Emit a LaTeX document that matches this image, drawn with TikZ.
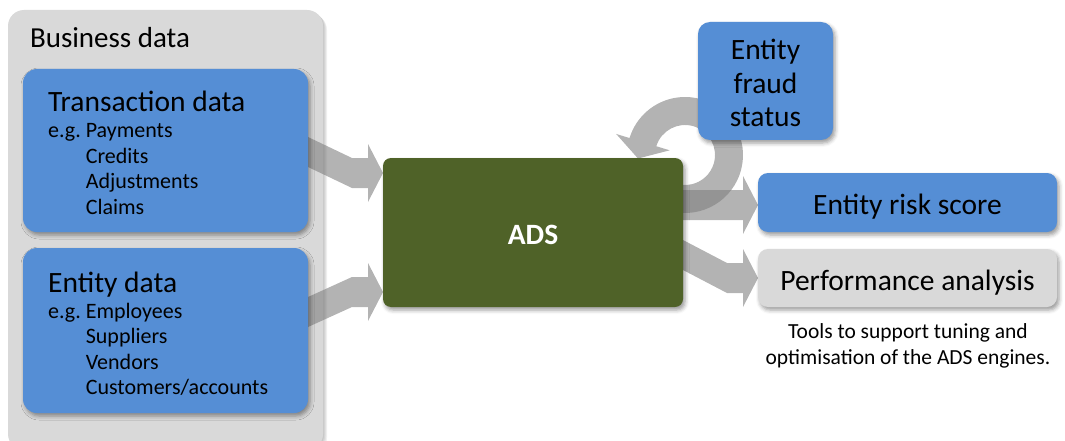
\documentclass[tikz,border=0pt]{standalone}
\usepackage{fontspec}
\setmainfont{Carlito}
\usepackage{tikz}
\usetikzlibrary{calc,shadows.blur}

\definecolor{boxblue}{HTML}{558ED5}
\definecolor{adsgreen}{HTML}{4F6228}
\definecolor{boxgray}{HTML}{D9D9D9}

\pgfdeclarelayer{framelayer}
\pgfdeclarelayer{arrowlayer}
\pgfsetlayers{framelayer,arrowlayer,main}

\newcommand{\px}[2]{\fontsize{#1}{#2}\selectfont}
\newcommand{\bentarrow}[2]{%
 \fill[flowarrow] ($(#1)+(0,-15)$) -- ($(#2)+(-31,-15)$) -- ($(#2)+(-15,-15)$)
  -- ($(#2)+(-15,-29)$) -- (#2) -- ($(#2)+(-15,29)$) -- ($(#2)+(-15,15)$)
  -- ($(#2)+(-31,15)$) -- ($(#1)+(0,15)$) -- cycle;}

\begin{document}
\begin{tikzpicture}[x=1pt,y=-1pt,
  box/.style={rounded corners=#1, inner sep=0pt, outer sep=0pt,
   blur shadow={shadow xshift=2pt,shadow yshift=-3pt,shadow blur radius=4pt,shadow opacity=40}},
  box/.default=14pt,
  bluebox/.style={box, fill=boxblue},
  oneline/.style={font=\px{29.5}{35}, text height=24pt, text depth=0pt},
  flowarrow/.style={fill=black!50, fill opacity=0.6}]
 \useasboundingbox (0,0) rectangle (1065,441);

 % shadowed boxes first (before anything goes on a layer)
 \node[bluebox, minimum width=285, minimum height=163] (trans) at (165.5,150.5) {};
 \node[bluebox, minimum width=285, minimum height=165] (entity) at (165.5,330.5) {};
 \node[box=8pt, fill=adsgreen, minimum width=300, minimum height=149, text=white,
  oneline, font=\px{29.5}{35}\bfseries] (ads) at (533,232.5) {ADS};
 \node[bluebox, rounded corners=12pt, minimum width=135, minimum height=118] (fraud) at (765.5,81) {};
 \node[bluebox, rounded corners=10pt, minimum width=299, minimum height=59, oneline] (risk) at (907.5,202.5) {Entity risk score};
 \node[box=10pt, fill=boxgray, minimum width=299, minimum height=58, oneline] (perf) at (907.5,278) {Performance analysis};

 % business data frame
 \begin{pgfonlayer}{framelayer}
  \foreach \s in {1,2,3,4}
   \fill[black, opacity=0.06, rounded corners=16pt] (8+\s,10+\s) rectangle (323+\s,450+\s);
  \node[fill=boxgray, rounded corners=16pt, inner sep=0pt, minimum width=315, minimum height=440] (biz) at (165.5,230) {};
 \end{pgfonlayer}
 \node[anchor=base west, inner sep=0, font=\px{29}{35}] (biztitle) at ($(biz.north west)+(22,38)$) {Business data};

 \node[anchor=base west, inner sep=0, font=\px{29.5}{35}] (transtitle) at ($(trans.north west)+(25,43)$) {Transaction data};
 \node[anchor=base west, inner sep=0, font=\px{22}{25.5}] (translist) at ($(trans.north west)+(25,69)$)
  {\begin{tabular}[t]{@{}l@{\ }l@{}}e.g. & Payments\\ & Credits\\ & Adjustments\\ & Claims\end{tabular}};
 \node[anchor=base west, inner sep=0, font=\px{29.5}{35}] (entitytitle) at ($(entity.north west)+(25,44)$) {Entity data};
 \node[anchor=base west, inner sep=0, font=\px{22}{25.5}] (entitylist) at ($(entity.north west)+(25,70)$)
  {\begin{tabular}[t]{@{}l@{\ }l@{}}e.g. & Employees\\ & Suppliers\\ & Vendors\\ & Customers/accounts\end{tabular}};
 \node[anchor=base, inner sep=0, font=\px{29.5}{33.5}] (fraudtext) at ($(fraud.center)+(0,-21)$)
  {\begin{tabular}[t]{@{}c@{}}Entity\\fraud\\status\end{tabular}};
 \node[anchor=base, inner sep=0, font=\px{21.5}{26}] (perfnote) at ($(perf.south)+(0.5,31)$)
  {\begin{tabular}[t]{@{}c@{}}Tools to support tuning and\\optimisation of the ADS engines.\end{tabular}};

 % block arrows
 \coordinate (a1) at ($(trans.east)+(0,1.5)$);
 \coordinate (b1) at ($(ads.west)+(0,-59.5)$);
 \coordinate (a2) at ($(entity.east)+(0,-18.5)$);
 \coordinate (b2) at ($(ads.west)+(0,59.5)$);
 \coordinate (a3) at ($(ads.east)+(0,-27.5)$);
 \coordinate (b3) at ($(risk.west)+(0,2.5)$);
 \coordinate (a4) at ($(ads.east)+(0,22.5)$);
 \coordinate (b4) at (perf.west);
 \coordinate (loop) at ($(ads.north east)+(2,-3)$);
 \begin{pgfonlayer}{arrowlayer}
  \bentarrow{a1}{b1}
  \bentarrow{a2}{b2}
  \fill[flowarrow] ([shift={(110:58)}]loop) arc[start angle=110, end angle=-163, radius=58]
   -- ([shift={(-163:72)}]loop) -- ([shift={(-47,3.5)}]loop) -- ([shift={(-163:16)}]loop)
   -- ([shift={(-163:30)}]loop) arc[start angle=-163, end angle=110, radius=30] -- cycle;
  \bentarrow{a3}{b3}
  \bentarrow{a4}{b4}
 \end{pgfonlayer}
\end{tikzpicture}
\end{document}
